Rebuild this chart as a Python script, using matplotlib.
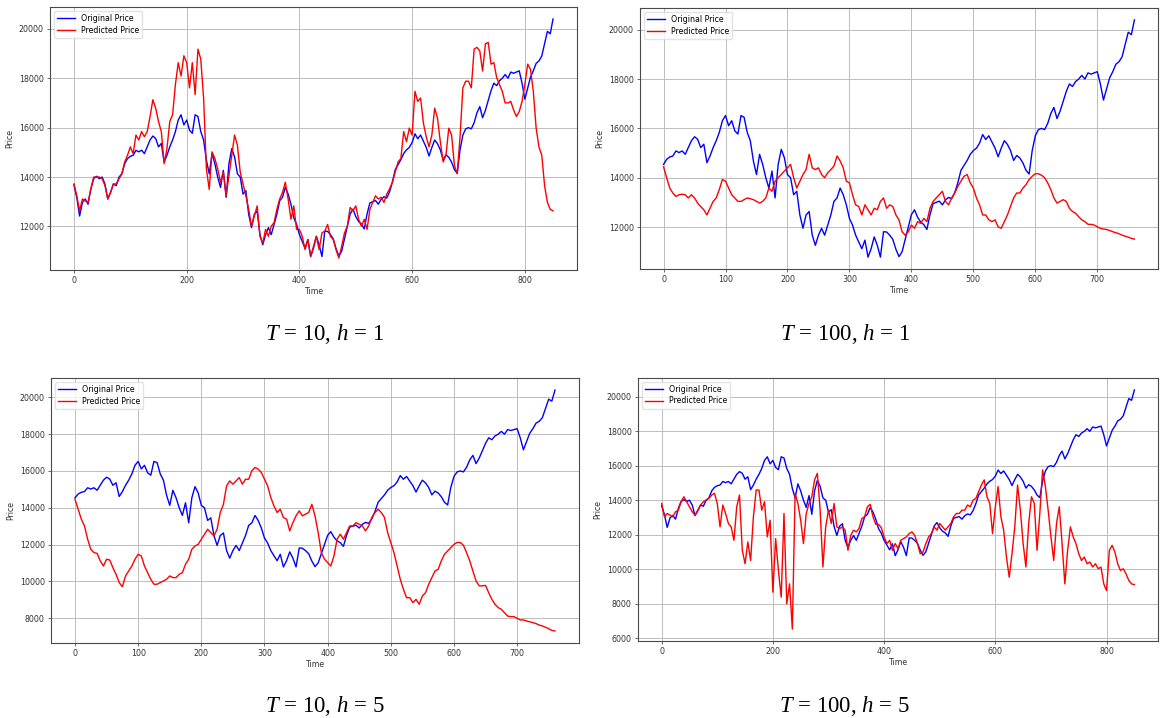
import matplotlib
matplotlib.use('Agg')
import matplotlib.pyplot as plt
import numpy as np

plt.rcParams['mathtext.fontset'] = 'custom'
plt.rcParams['mathtext.rm'] = 'Liberation Serif'
plt.rcParams['mathtext.it'] = 'Liberation Serif:italic'

STEP = 5  # samples every 5 time steps

# original price, T=10 series (starts 90 steps before the T=100 window)
head_price = [13680, 13170, 12420, 12970, 13110, 12900, 13520, 13930, 14030, 13930, 14000, 13720,
              13110, 13380, 13720, 13650, 14000, 14130]
window_price = [
    14540, 14745, 14840, 14880, 15085, 15020, 15085, 14950, 15220, 15500, 15660, 15560,
    15220, 15360, 14610, 14880, 15220, 15500, 15840, 16310, 16520, 16110, 16310, 15900,
    15770, 16520, 16450, 15840, 15500, 14680, 14130, 14950, 14540, 14000, 13580, 14270,
    13180, 14540, 15150, 14810, 14130, 14000, 13310, 13450, 12490, 11950, 12490, 12630,
    11670, 11260, 11670, 11950, 11670, 12080, 12490, 13040, 13180, 13580, 13310, 12900,
    12350, 12080, 11670, 11400, 11120, 11470, 10780, 11120, 11600, 11260, 10780, 11810,
    11800, 11670, 11500, 11100, 10800, 11000, 11500, 12000, 12500, 12700, 12400, 12200,
    12100, 11900, 12500, 12950, 13000, 13050, 12900, 13100, 13200, 13150, 13400, 13800,
    14300, 14500, 14700, 14950, 15100, 15200, 15400, 15750, 15550, 15700, 15450, 15200,
    14850, 15200, 15500, 15350, 15100, 14700, 14900, 14800, 14600, 14300, 14150, 15100,
    15700, 15950, 16000, 15950, 16200, 16600, 16850, 16400, 16700, 17100, 17500, 17800,
    17700, 17900, 18000, 18150, 18000, 18250, 18200, 18250, 18300, 17800, 17150, 17600,
    18050, 18300, 18600, 18700, 18900, 19400, 19900, 19800, 20400]
full_price = head_price + window_price

pred_t10_h1 = [
    13720, 13240, 12630, 13110, 13040, 12970, 13520, 14000, 14000, 14000, 13930, 13650,
    13110, 13380, 13720, 13720, 13930, 14130, 14610, 14880, 15220, 14950, 15700, 15500,
    15840, 15630, 15840, 16450, 17130, 16790, 16250, 15840, 14540, 15150, 16250, 16520,
    17750, 18630, 18090, 18910, 18630, 17610, 18630, 17340, 19180, 18770, 17200, 14330,
    13500, 15020, 14750, 14330, 13790, 14200, 13240, 14060, 14880, 15700, 15290, 14200,
    13720, 13240, 12690, 12010, 12420, 12830, 11600, 11330, 11880, 11600, 12010, 12150,
    12690, 13110, 13380, 13790, 13110, 12290, 12830, 11880, 11880, 11600, 11060, 11470,
    10790, 11200, 11600, 11060, 11740, 11810, 12080, 11600, 11470, 11060, 10720, 11200,
    11740, 12010, 12770, 12630, 12830, 12290, 12010, 12290, 11880, 12690, 12970, 13240,
    13110, 13180, 12970, 13310, 13520, 13790, 14200, 14610, 14750, 15840, 15430, 15980,
    15700, 17470, 17060, 17200, 16180, 15630, 15220, 15700, 16790, 16380, 15430, 14610,
    14880, 15980, 15700, 14470, 14130, 15630, 17610, 17880, 17880, 17610, 19180, 19250,
    19110, 18290, 19390, 19450, 18570, 18630, 18020, 17750, 17470, 17000, 17000, 17060,
    16720, 16450, 16650, 17060, 17750, 18570, 18360, 17470, 15980, 15220, 14880, 13650,
    12970, 12690, 12630]

pred_t100_h1 = [
    14440, 14000, 13580, 13380, 13240, 13310, 13330, 13310, 13180, 13310, 13180, 12970,
    12830, 12700, 12490, 12760, 13040, 13180, 13520, 13930, 13860, 13580, 13310, 13180,
    13040, 13040, 13110, 13180, 13150, 13110, 13040, 12970, 13040, 13180, 13580, 13450,
    13860, 14000, 14130, 14270, 14400, 14540, 14000, 13580, 13860, 14130, 14330, 14950,
    14400, 14330, 14400, 14130, 14000, 14200, 14330, 14470, 14880, 14680, 14400, 13860,
    13790, 13310, 12900, 12830, 12490, 12900, 12700, 12490, 12760, 12700, 13040, 13180,
    12760, 12900, 12830, 12490, 12290, 11810, 11670, 11810, 12080, 11950, 12220, 12150,
    12350, 12220, 12760, 13040, 13180, 13310, 13450, 13040, 12900, 13180, 13380, 13650,
    13860, 14060, 14130, 13790, 13580, 13180, 12900, 12490, 12490, 12290, 12220, 12290,
    12010, 11950, 12220, 12490, 12830, 13180, 13380, 13380, 13580, 13720, 13930, 14060,
    14160, 14160, 14100, 14000, 13790, 13520, 13180, 12970, 13040, 13110, 13040, 12760,
    12630, 12560, 12420, 12290, 12220, 12110, 12110, 12080, 12010, 11950, 11920, 11900,
    11860, 11810, 11770, 11730, 11670, 11630, 11590, 11540, 11510]

pred_t10_h5 = [
    14460, 13920, 13380, 13010, 12290, 11740, 11560, 11520, 11110, 10830, 11200, 11160,
    10740, 10380, 9930, 9700, 10290, 10560, 10830, 11200, 11470, 11380, 10830, 10470,
    10110, 9840, 9840, 9930, 10020, 10110, 10290, 10200, 10200, 10380, 10470, 10930,
    11200, 11740, 11920, 12010, 12290, 12560, 12830, 12650, 12470, 12830, 13740, 14190,
    15190, 15460, 15280, 15460, 15640, 15280, 15550, 15550, 16010, 16190, 16100, 15920,
    15550, 15190, 14560, 14100, 13740, 13920, 13470, 13380, 12740, 13190, 13560, 13830,
    13560, 13650, 13740, 14190, 13560, 12650, 11560, 11200, 11020, 10830, 11380, 12290,
    12560, 12290, 12650, 13010, 13010, 13190, 13100, 13010, 12740, 13010, 13470, 13740,
    13920, 13740, 13470, 12650, 12110, 11560, 10830, 10110, 9560, 9110, 9110, 8840,
    9020, 8750, 9200, 9380, 9840, 10200, 10560, 10650, 11110, 11470, 11650, 11830,
    12010, 12110, 12110, 11960, 11560, 11110, 10560, 10020, 9750, 9750, 9780, 9380,
    9020, 8750, 8570, 8480, 8290, 8110, 8080, 8080, 7990, 7900, 7900, 7840,
    7800, 7750, 7700, 7620, 7570, 7500, 7420, 7330, 7300]

pred_t100_h5 = [
    13810, 13040, 13230, 13130, 13040, 13330, 13420, 13910, 14200, 13910, 13620, 13330,
    13130, 13420, 13720, 13910, 14010, 14110, 14300, 14400, 13810, 12450, 13720, 13230,
    12650, 12450, 11670, 13620, 14300, 11090, 10310, 11580, 10500, 13040, 14590, 14590,
    13420, 13910, 11870, 12840, 8660, 11770, 9920, 8370, 13230, 7980, 9140, 6520,
    14400, 13810, 12840, 11480, 13230, 13810, 14200, 15180, 15560, 13420, 10120, 12450,
    13420, 12650, 13810, 12450, 12350, 12450, 12260, 11090, 11960, 12260, 12160, 12360,
    12940, 13040, 13620, 13760, 13040, 12600, 12600, 12400, 11870, 11480, 11670, 11090,
    11480, 11190, 11670, 11770, 11870, 12060, 12160, 11960, 11480, 10890, 10990, 11480,
    11870, 12060, 12450, 12260, 12650, 12450, 12260, 12450, 12650, 13040, 13230, 13230,
    13420, 13420, 13720, 13620, 14000, 14110, 14490, 14880, 15180, 14200, 13810, 12060,
    13620, 14790, 13040, 12260, 10700, 9530, 10890, 12450, 14880, 13420, 11480, 10120,
    12650, 14200, 13810, 11090, 13230, 15760, 14790, 13420, 11870, 10500, 12650, 13620,
    11480, 9140, 11090, 12450, 11870, 11480, 10890, 10500, 10700, 10310, 10410, 10120,
    10310, 10020, 10120, 9140, 8750, 11090, 11380, 10990, 10310, 9920, 10020, 9730,
    9340, 9140, 9100]

xticks_long = [0, 200, 400, 600, 800]
xticks_short = [0, 100, 200, 300, 400, 500, 600, 700]
yticks_top = [12000, 14000, 16000, 18000, 20000]
yticks_t10_h5 = [8000, 10000, 12000, 14000, 16000, 18000, 20000]
yticks_t100_h5 = [6000, 8000, 10000, 12000, 14000, 16000, 18000, 20000]

W, H = 1160, 718
fig = plt.figure(figsize=(W / 100, H / 100), dpi=100)


def panel(box, orig, pred, xticks, yticks, caption, cap_xy):
    l, t, r, b = box
    ax = fig.add_axes([l / W, 1 - b / H, (r - l) / W, (b - t) / H])
    ax.plot(np.arange(len(orig)) * STEP, orig, color='blue', lw=1.0, label='Original Price')
    ax.plot(np.arange(len(pred)) * STEP, pred, color='red', lw=1.0, label='Predicted Price')
    ax.set_xticks(xticks)
    ax.set_yticks(yticks)
    ax.grid(True, color='#bdbdbd', lw=0.7)
    ax.set_axisbelow(True)
    ax.tick_params(labelsize=5.7, length=2.5, width=0.5, pad=2, colors='#333333')
    for s in ax.spines.values():
        s.set_color('#4a4a4a')
        s.set_linewidth(0.8)
    ax.set_xlabel('Time', fontsize=5.7, labelpad=1, color='#333333')
    ax.set_ylabel('Price', fontsize=5.7, labelpad=3, color='#333333')
    ax.legend(loc='upper left', fontsize=5.7, handlelength=2.2, borderpad=0.4,
              labelspacing=0.3, framealpha=0.8, edgecolor='#dddddd', fancybox=True)
    fig.text(cap_xy[0] / W, 1 - cap_xy[1] / H, caption, ha='center', va='center',
             fontsize=16.5, family='Liberation Serif')
    return ax


panel((50, 7, 577, 270), full_price, pred_t10_h1, xticks_long, yticks_top,
      r'$T$ = 10, $h$ = 1', (325, 334))
panel((640, 8, 1158, 269), window_price, pred_t100_h1, xticks_short, yticks_top,
      r'$T$ = 100, $h$ = 1', (845, 334))
panel((51, 378, 579, 643), window_price, pred_t10_h5, xticks_short, yticks_t10_h5,
      r'$T$ = 10, $h$ = 5', (325, 706))
panel((638, 378, 1158, 641), full_price, pred_t100_h5, xticks_long, yticks_t100_h5,
      r'$T$ = 100, $h$ = 5', (845, 706))

fig.savefig('out.png', dpi=100)
